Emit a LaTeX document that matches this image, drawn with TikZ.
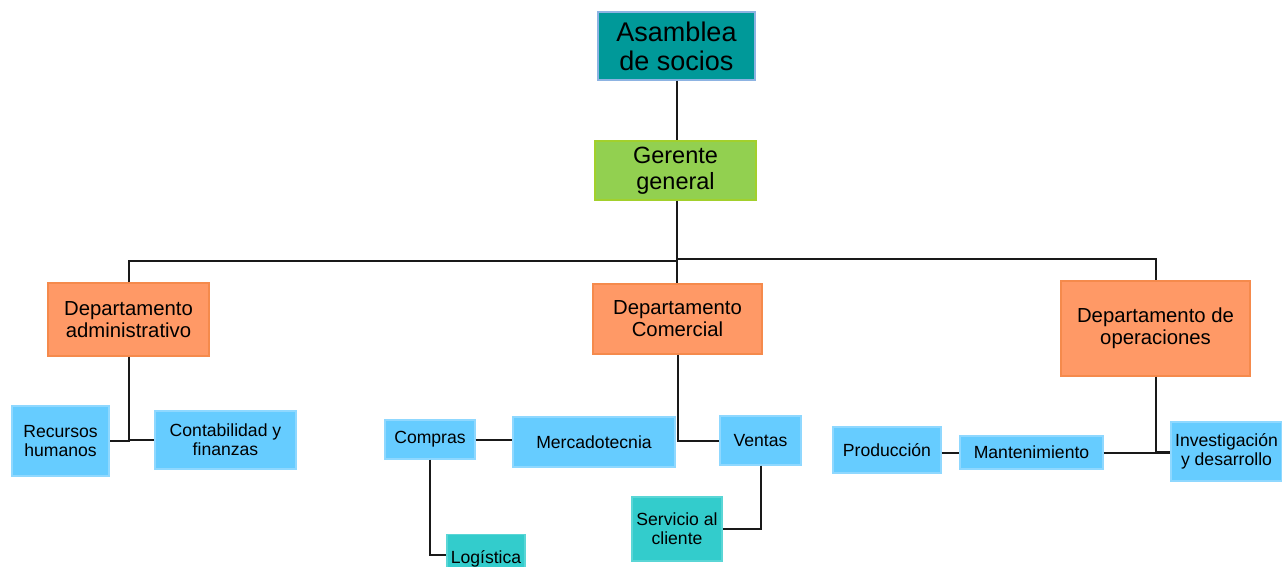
\documentclass[tikz,border=0pt]{standalone}
\usepackage{fontspec}
\setmainfont{Liberation Sans}
\definecolor{teal1}{HTML}{009999}
\definecolor{tealbd}{HTML}{8DB3E2}
\definecolor{green1}{HTML}{92D050}
\definecolor{greenbd}{HTML}{A2D02C}
\definecolor{orange1}{HTML}{FF9966}
\definecolor{orangebd}{HTML}{F58A4C}
\definecolor{blue1}{HTML}{66CCFF}
\definecolor{bluebd}{HTML}{8FD8FF}
\definecolor{cyan1}{HTML}{33CCCC}
\definecolor{cyanbd}{HTML}{5AD6D6}
\tikzset{
  box/.style={draw, line width=1.2pt, inner sep=0pt, align=center, text=black},
  topbox/.style={box, fill=teal1, draw=tealbd, font=\fontsize{27}{29}\selectfont},
  gerbox/.style={box, fill=green1, draw=greenbd, font=\fontsize{23.5}{26}\selectfont},
  deptbox/.style={box, fill=orange1, draw=orangebd, font=\fontsize{20.3}{22}\selectfont},
  subbox/.style={box, fill=blue1, draw=bluebd, font=\fontsize{17.6}{19}\selectfont},
  leafbox/.style={box, fill=cyan1, draw=cyanbd, font=\fontsize{17.6}{19}\selectfont},
  conn/.style={draw=black!90, line width=2pt}
}
\begin{document}
\begin{tikzpicture}[x=1pt,y=-1pt]
\useasboundingbox (0,0) rectangle (1282,567);
% top levels
\node[topbox, minimum width=157, minimum height=68] (asam) at (676.5,46) {Asamblea\\de socios};
\node[gerbox, minimum width=161, minimum height=59] (ger) at (675.5,170.5) {Gerente\\general};
% departments
\node[deptbox, minimum width=161, minimum height=73] (adm) at (128.5,319.5) {Departamento\\administrativo};
\node[deptbox, minimum width=169, minimum height=70] (com) at (677.5,319) {Departamento\\Comercial};
\node[deptbox, minimum width=189, minimum height=95] (ops) at (1155.5,328.5) {Departamento de\\operaciones};
% admin children
\node[subbox, minimum width=97, minimum height=70] (rh) at (60.5,441) {Recursos\\humanos};
\node[subbox, minimum width=141, minimum height=58] (cont) at (225.5,440) {Contabilidad y\\finanzas};
% comercial children
\node[subbox, minimum width=90, minimum height=39] (compras) at (430,439.5) {Compras};
\node[subbox, minimum width=162, minimum height=50] (merc) at (594,442) {Mercadotecnia};
\node[subbox, minimum width=81, minimum height=49] (ventas) at (760.5,440.5) {Ventas};
\node[leafbox, minimum width=78, minimum height=40, text height=22pt, text depth=4pt, anchor=north] (log) at (486,534) {Logística};
\node[leafbox, minimum width=90, minimum height=64] (serv) at (677,529) {Servicio al\\cliente};
% operations children
\node[subbox, minimum width=108, minimum height=46] (prod) at (887,450) {Producción};
\node[subbox, minimum width=143, minimum height=33] (mant) at (1031.5,452.5) {Mantenimiento};
\node[subbox, minimum width=111, minimum height=59] (inv) at (1226.5,451.5) {Investigación\\y desarrollo};
% junctions
\coordinate (j1) at (677,261);
\coordinate (j2) at (677,259);
% connectors
\draw[conn] (asam.south -| j1) -- (ger.north -| j1);
\draw[conn] (ger.south -| j1) -- (j1);
\draw[conn] (adm.north) |- (j1);
\draw[conn] (j1) -- (com.north -| j1);
\draw[conn] (j2) -| (ops.north);
\draw[conn] (adm.south) |- (rh.east);
\draw[conn] (adm.south |- cont.west) -- (cont.west);
\draw[conn] (com.south) |- (ventas.west);
\draw[conn] (compras.east) -- (compras.east -| merc.west);
\draw[conn] (compras.south) |- (log.west);
\draw[conn] (ventas.south) |- (serv.east);
\draw[conn] (ops.south) |- (inv.west);
\draw[conn] (mant.east) -- (mant.east -| inv.west);
\draw[conn] (mant.west -| prod.east) -- (mant.west);
\end{tikzpicture}
\end{document}
